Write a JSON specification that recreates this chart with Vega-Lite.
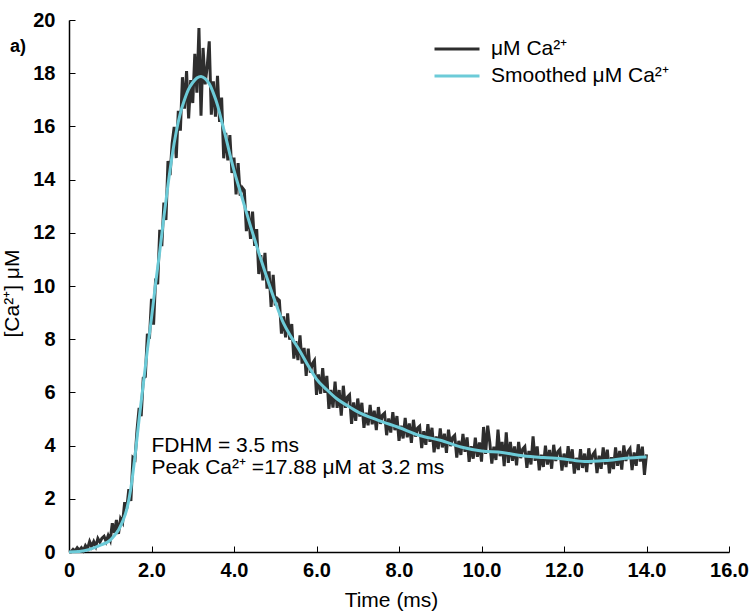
{
  "$schema": "https://vega.github.io/schema/vega-lite/v6.json",
  "width": 660,
  "height": 532,
  "autosize": {"type": "none"},
  "padding": {"left": 69, "top": 20, "right": 21, "bottom": 63},
  "background": "white",
  "title": {"text": "a)", "anchor": "start", "frame": "group", "orient": "top", "offset": 0, "baseline": "alphabetic", "dx": -59, "dy": 60, "font": "Liberation Sans", "fontSize": 18, "fontWeight": "bold", "color": "black"},
  "config": {
    "view": {"stroke": null},
    "font": "Liberation Sans"
  },
  "datasets": {
    "raw": [
      {"t":0,"v":0},{"t":0.05,"v":0.01},{"t":0.1,"v":0.1},{"t":0.15,"v":0.04},{"t":0.2,"v":0.16},{"t":0.25,"v":0.07},{"t":0.3,"v":0.16},{"t":0.35,"v":0.05},{"t":0.4,"v":0.24},{"t":0.45,"v":0.13},
      {"t":0.5,"v":0.39},{"t":0.55,"v":0.2},{"t":0.6,"v":0.39},{"t":0.65,"v":0.21},{"t":0.7,"v":0.51},{"t":0.75,"v":0.37},{"t":0.8,"v":0.52},{"t":0.85,"v":0.59},{"t":0.9,"v":0.39},{"t":0.95,"v":0.62},
      {"t":1.0,"v":0.44},{"t":1.05,"v":1.08},{"t":1.1,"v":0.72},{"t":1.15,"v":1.2},{"t":1.2,"v":0.68},{"t":1.25,"v":1.25},{"t":1.3,"v":1.11},{"t":1.35,"v":1.87},{"t":1.4,"v":1.63},{"t":1.45,"v":2.36},
      {"t":1.5,"v":1.92},{"t":1.55,"v":3.55},{"t":1.6,"v":3.48},{"t":1.65,"v":4.6},{"t":1.7,"v":5.42},{"t":1.75,"v":5.11},{"t":1.8,"v":6.54},{"t":1.85,"v":6.59},{"t":1.9,"v":8.2},{"t":1.95,"v":8.02},
      {"t":2.0,"v":9.52},{"t":2.05,"v":8.55},{"t":2.1,"v":10.28},{"t":2.15,"v":10.07},{"t":2.2,"v":12.11},{"t":2.25,"v":11.5},{"t":2.3,"v":13.14},{"t":2.35,"v":12.48},{"t":2.4,"v":14.7},{"t":2.45,"v":14.17},
      {"t":2.5,"v":15.35},{"t":2.55,"v":15.98},{"t":2.6,"v":14.81},{"t":2.65,"v":16.59},{"t":2.7,"v":15.84},{"t":2.75,"v":17.85},{"t":2.8,"v":16.67},{"t":2.85,"v":18.08},{"t":2.9,"v":16.3},{"t":2.95,"v":17.74},
      {"t":3.0,"v":16.88},{"t":3.05,"v":18.73},{"t":3.1,"v":17.27},{"t":3.15,"v":19.7},{"t":3.2,"v":16.4},{"t":3.25,"v":18.95},{"t":3.3,"v":17.58},{"t":3.35,"v":18.25},{"t":3.4,"v":19.2},{"t":3.45,"v":16.44},
      {"t":3.5,"v":17.69},{"t":3.55,"v":16.37},{"t":3.6,"v":17.9},{"t":3.65,"v":16.17},{"t":3.7,"v":17.08},{"t":3.75,"v":14.8},{"t":3.8,"v":15.76},{"t":3.85,"v":14.72},{"t":3.9,"v":15.67},{"t":3.95,"v":14.25},
      {"t":4.0,"v":14.83},{"t":4.05,"v":13.44},{"t":4.1,"v":14.62},{"t":4.15,"v":13.4},{"t":4.2,"v":13.7},{"t":4.25,"v":13.6},{"t":4.3,"v":12.06},{"t":4.35,"v":12.82},{"t":4.4,"v":11.77},{"t":4.45,"v":12.8},
      {"t":4.5,"v":11.51},{"t":4.55,"v":12.14},{"t":4.6,"v":10.45},{"t":4.65,"v":11.16},{"t":4.7,"v":10.21},{"t":4.75,"v":11.25},{"t":4.8,"v":9.9},{"t":4.85,"v":10.55},{"t":4.9,"v":9.21},{"t":4.95,"v":10.42},
      {"t":5.0,"v":9.27},{"t":5.05,"v":9.53},{"t":5.1,"v":9.46},{"t":5.15,"v":8.21},{"t":5.2,"v":8.86},{"t":5.25,"v":8.07},{"t":5.3,"v":8.97},{"t":5.35,"v":7.98},{"t":5.4,"v":8.57},{"t":5.45,"v":7.27},
      {"t":5.5,"v":7.93},{"t":5.55,"v":7.21},{"t":5.6,"v":8.14},{"t":5.65,"v":7.08},{"t":5.7,"v":7.67},{"t":5.75,"v":6.62},{"t":5.8,"v":7.65},{"t":5.85,"v":6.74},{"t":5.9,"v":7.08},{"t":5.95,"v":7.2},
      {"t":6.0,"v":5.91},{"t":6.05,"v":6.68},{"t":6.1,"v":5.95},{"t":6.15,"v":6.91},{"t":6.2,"v":5.98},{"t":6.25,"v":6.62},{"t":6.3,"v":5.38},{"t":6.35,"v":6.09},{"t":6.4,"v":5.43},{"t":6.45,"v":6.41},
      {"t":6.5,"v":5.42},{"t":6.55,"v":6.09},{"t":6.6,"v":5.13},{"t":6.65,"v":6.25},{"t":6.7,"v":5.42},{"t":6.75,"v":5.83},{"t":6.8,"v":5.91},{"t":6.85,"v":4.82},{"t":6.9,"v":5.62},{"t":6.95,"v":4.93},
      {"t":7.0,"v":5.77},{"t":7.05,"v":5.09},{"t":7.1,"v":5.61},{"t":7.15,"v":4.67},{"t":7.2,"v":5.24},{"t":7.25,"v":4.76},{"t":7.3,"v":5.53},{"t":7.35,"v":4.8},{"t":7.4,"v":5.31},{"t":7.45,"v":4.58},
      {"t":7.5,"v":5.45},{"t":7.55,"v":4.82},{"t":7.6,"v":5.15},{"t":7.65,"v":5.22},{"t":7.7,"v":4.39},{"t":7.75,"v":5.02},{"t":7.8,"v":4.49},{"t":7.85,"v":5.26},{"t":7.9,"v":4.58},{"t":7.95,"v":5.11},
      {"t":8.0,"v":4.18},{"t":8.05,"v":4.75},{"t":8.1,"v":4.27},{"t":8.15,"v":5.04},{"t":8.2,"v":4.31},{"t":8.25,"v":4.83},{"t":8.3,"v":4.1},{"t":8.35,"v":4.97},{"t":8.4,"v":4.34},{"t":8.45,"v":4.66},
      {"t":8.5,"v":4.73},{"t":8.55,"v":3.91},{"t":8.6,"v":4.54},{"t":8.65,"v":4.03},{"t":8.7,"v":4.81},{"t":8.75,"v":4.14},{"t":8.8,"v":4.67},{"t":8.85,"v":3.75},{"t":8.9,"v":4.34},{"t":8.95,"v":3.87},
      {"t":9.0,"v":4.65},{"t":9.05,"v":3.93},{"t":9.1,"v":4.45},{"t":9.15,"v":3.73},{"t":9.2,"v":4.6},{"t":9.25,"v":3.98},{"t":9.3,"v":4.3},{"t":9.35,"v":4.38},{"t":9.4,"v":3.55},{"t":9.45,"v":4.18},
      {"t":9.5,"v":3.65},{"t":9.55,"v":4.44},{"t":9.6,"v":3.77},{"t":9.65,"v":4.31},{"t":9.7,"v":3.39},{"t":9.75,"v":3.98},{"t":9.8,"v":3.51},{"t":9.85,"v":4.3},{"t":9.9,"v":3.58},{"t":9.95,"v":4.12},
      {"t":10.0,"v":3.4},{"t":10.05,"v":4.7},{"t":10.1,"v":3.69},{"t":10.15,"v":4.75},{"t":10.2,"v":4.13},{"t":10.25,"v":3.32},{"t":10.3,"v":3.96},{"t":10.35,"v":3.46},{"t":10.4,"v":4.6},{"t":10.45,"v":3.6},
      {"t":10.5,"v":4.14},{"t":10.55,"v":3.23},{"t":10.6,"v":4.5},{"t":10.65,"v":3.35},{"t":10.7,"v":4.14},{"t":10.75,"v":3.43},{"t":10.8,"v":3.97},{"t":10.85,"v":3.26},{"t":10.9,"v":4.14},{"t":10.95,"v":3.53},
      {"t":11.0,"v":3.87},{"t":11.05,"v":3.96},{"t":11.1,"v":3.16},{"t":11.15,"v":3.8},{"t":11.2,"v":3.29},{"t":11.25,"v":4.35},{"t":11.3,"v":3.43},{"t":11.35,"v":3.97},{"t":11.4,"v":3.07},{"t":11.45,"v":3.66},
      {"t":11.5,"v":3.2},{"t":11.55,"v":4.0},{"t":11.6,"v":3.29},{"t":11.65,"v":3.84},{"t":11.7,"v":3.13},{"t":11.75,"v":4.03},{"t":11.8,"v":3.42},{"t":11.85,"v":3.77},{"t":11.9,"v":3.86},{"t":11.95,"v":3.06},
      {"t":12.0,"v":3.7},{"t":12.05,"v":3.19},{"t":12.1,"v":3.98},{"t":12.15,"v":3.32},{"t":12.2,"v":3.86},{"t":12.25,"v":2.95},{"t":12.3,"v":3.54},{"t":12.35,"v":3.08},{"t":12.4,"v":3.87},{"t":12.45,"v":3.16},
      {"t":12.5,"v":3.7},{"t":12.55,"v":3.0},{"t":12.6,"v":3.9},{"t":12.65,"v":3.31},{"t":12.7,"v":3.66},{"t":12.75,"v":3.77},{"t":12.8,"v":2.97},{"t":12.85,"v":3.62},{"t":12.9,"v":3.13},{"t":12.95,"v":3.93},
      {"t":13.0,"v":3.29},{"t":13.05,"v":3.85},{"t":13.1,"v":2.96},{"t":13.15,"v":3.56},{"t":13.2,"v":3.12},{"t":13.25,"v":3.93},{"t":13.3,"v":3.24},{"t":13.35,"v":3.8},{"t":13.4,"v":3.1},{"t":13.45,"v":4.01},
      {"t":13.5,"v":3.42},{"t":13.55,"v":3.77},{"t":13.6,"v":3.88},{"t":13.65,"v":3.08},{"t":13.7,"v":3.74},{"t":13.75,"v":3.24},{"t":13.8,"v":4.05},{"t":13.85,"v":3.4},{"t":13.9,"v":3.96},{"t":13.95,"v":2.9},
      {"t":14.0,"v":3.67}
    ],
    "smooth": [
      {"t":0,"v":0},{"t":0.25,"v":0.02},{"t":0.5,"v":0.1},{"t":0.75,"v":0.25},{"t":1.0,"v":0.45},{"t":1.1,"v":0.62},{"t":1.2,"v":0.83},{"t":1.3,"v":1.15},{"t":1.4,"v":1.6},{"t":1.5,"v":2.4},
      {"t":1.6,"v":3.6},{"t":1.7,"v":5.0},{"t":1.8,"v":6.3},{"t":1.9,"v":7.6},{"t":2.0,"v":8.8},{"t":2.1,"v":10.1},{"t":2.2,"v":11.3},{"t":2.3,"v":12.6},{"t":2.4,"v":13.8},{"t":2.5,"v":14.9},
      {"t":2.6,"v":15.8},{"t":2.7,"v":16.5},{"t":2.8,"v":17.0},{"t":2.9,"v":17.4},{"t":3.0,"v":17.65},{"t":3.1,"v":17.82},{"t":3.2,"v":17.88},{"t":3.3,"v":17.8},{"t":3.4,"v":17.6},{"t":3.5,"v":17.25},
      {"t":3.6,"v":16.8},{"t":3.7,"v":16.2},{"t":3.8,"v":15.6},{"t":3.9,"v":14.95},{"t":4.0,"v":14.35},{"t":4.2,"v":13.3},{"t":4.4,"v":12.25},{"t":4.6,"v":11.25},{"t":4.8,"v":10.3},{"t":5.0,"v":9.4},
      {"t":5.2,"v":8.6},{"t":5.4,"v":8.05},{"t":5.6,"v":7.55},{"t":5.8,"v":7.0},{"t":6.0,"v":6.5},{"t":6.25,"v":6.1},{"t":6.5,"v":5.75},{"t":6.75,"v":5.5},{"t":7.0,"v":5.27},{"t":7.5,"v":4.95},
      {"t":8.0,"v":4.68},{"t":8.5,"v":4.38},{"t":9.0,"v":4.2},{"t":9.5,"v":3.95},{"t":10.0,"v":3.8},{"t":10.5,"v":3.74},{"t":11.0,"v":3.62},{"t":11.5,"v":3.55},{"t":12.0,"v":3.5},{"t":12.5,"v":3.4},
      {"t":13.0,"v":3.44},{"t":13.5,"v":3.52},{"t":14.0,"v":3.57}
    ],
    "notes": [
      {"t":2.0,"v":3.76,"label":"FDHM = 3.5 ms"},
      {"t":2.0,"v":2.95,"label":"Peak Ca²⁺ =17.88 μM at 3.2 ms"}
    ]
  },
  "encoding": {
    "x": {
      "field": "t", "type": "quantitative",
      "scale": {"domain": [0, 16], "nice": false, "zero": false},
      "axis": {
        "values": [0, 2, 4, 6, 8, 10, 12, 14, 16],
        "labelExpr": "datum.value == 0 ? '0' : format(datum.value, '.1f')",
        "title": "Time (ms)", "titleX": 322, "titleY": 54, "titleAnchor": null, "titleAlign": "center", "titleBaseline": "alphabetic",
        "titleFont": "Liberation Sans", "titleFontSize": 21, "titleFontWeight": "normal", "titleColor": "black",
        "labelFont": "Liberation Sans", "labelFontSize": 20, "labelFontWeight": "bold", "labelColor": "black",
        "labelPadding": 14, "labelFlush": false, "labelOverlap": false,
        "tickSize": -6, "tickColor": "black", "tickWidth": 1, "domainColor": "black", "domainWidth": 1.5, "grid": false
      }
    },
    "y": {
      "field": "v", "type": "quantitative",
      "scale": {"domain": [0, 20], "nice": false},
      "axis": {
        "values": [0, 2, 4, 6, 8, 10, 12, 14, 16, 18, 20],
        "format": "d",
        "title": "[Ca²⁺] μM", "titleX": -57, "titleY": 273, "titleAngle": -90, "titleAlign": "center", "titleBaseline": "middle",
        "titleFont": "Liberation Sans", "titleFontSize": 21, "titleFontWeight": "normal", "titleColor": "black",
        "labelFont": "Liberation Sans", "labelFontSize": 20, "labelFontWeight": "bold", "labelColor": "black",
        "labelPadding": 20, "labelFlush": false, "labelOverlap": false,
        "tickSize": -6, "tickColor": "black", "tickWidth": 1, "domainColor": "black", "domainWidth": 1.5, "grid": false
      }
    }
  },
  "layer": [
    {
      "data": {"name": "raw"},
      "mark": {"type": "line", "strokeWidth": 3, "interpolate": "linear"},
      "encoding": {
        "color": {
          "datum": "μM Ca²⁺",
          "type": "nominal",
          "scale": {"domain": ["μM Ca²⁺", "Smoothed μM Ca²⁺"], "range": ["#2e2e2e", "#6CCBD8"]},
          "legend": {
            "title": null, "orient": "none", "legendX": 375, "legendY": 16,
            "symbolType": "M-2,0H2", "symbolSize": 506, "symbolStrokeWidth": 3,
            "labelFont": "Liberation Sans", "labelFontSize": 21, "labelColor": "black", "labelOffset": 21,
            "rowPadding": 4, "labelLimit": 400
          }
        }
      }
    },
    {
      "data": {"name": "smooth"},
      "mark": {"type": "line", "strokeWidth": 3, "interpolate": "monotone"},
      "encoding": {
        "color": {"datum": "Smoothed μM Ca²⁺", "type": "nominal"}
      }
    },
    {
      "data": {"name": "notes"},
      "mark": {"type": "text", "align": "left", "baseline": "alphabetic", "font": "Liberation Sans", "fontSize": 21, "color": "black"},
      "encoding": {
        "text": {"field": "label", "type": "nominal"}
      }
    }
  ]
}
